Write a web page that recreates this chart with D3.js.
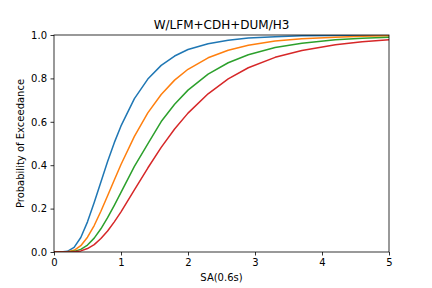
<!DOCTYPE html>
<html>
<head>
<meta charset="utf-8">
<script src="https://cdn.jsdelivr.net/npm/d3@7"></script>
<style>
  html, body { margin: 0; padding: 0; background: #fff; }
  svg { display: block; }
  text { font-family: "DejaVu Sans", sans-serif; fill: #000; }
</style>
</head>
<body>
<script>
const xValues = [0, 0.1, 0.2, 0.3, 0.4, 0.5, 0.6, 0.7, 0.8, 0.9, 1.0, 1.2, 1.4, 1.6, 1.8, 2.0, 2.3, 2.6, 2.9, 3.3, 3.7, 4.2, 4.6, 5.0];
const blue   = [0, 0, 0.003, 0.021, 0.067, 0.139, 0.228, 0.323, 0.417, 0.504, 0.581, 0.707, 0.797, 0.860, 0.903, 0.933, 0.960, 0.976, 0.986, 0.992, 0.996, 0.998, 0.999, 0.999];
const orange = [0, 0, 0.001, 0.008, 0.029, 0.068, 0.122, 0.188, 0.259, 0.332, 0.403, 0.533, 0.641, 0.726, 0.792, 0.842, 0.895, 0.930, 0.953, 0.972, 0.983, 0.990, 0.994, 0.996];
const green  = [0, 0, 0, 0.003, 0.012, 0.032, 0.064, 0.107, 0.158, 0.215, 0.275, 0.395, 0.498, 0.601, 0.681, 0.746, 0.820, 0.872, 0.909, 0.942, 0.962, 0.978, 0.985, 0.990];
const red    = [0, 0, 0, 0.001, 0.005, 0.016, 0.034, 0.062, 0.097, 0.139, 0.185, 0.286, 0.387, 0.482, 0.567, 0.640, 0.729, 0.798, 0.849, 0.897, 0.929, 0.955, 0.969, 0.978];
const seriesColors = ["#1f77b4", "#ff7f0e", "#2ca02c", "#d62728"];
const xTicks = [0, 1, 2, 3, 4, 5];
const yTicks = [0, 0.2, 0.4, 0.6, 0.8, 1.0];
const titleText = "W/LFM+CDH+DUM/H3";
const xLabel = "SA(0.6s)";
const yLabel = "Probability of Exceedance";

const W = 432, H = 288;
const m = { left: 54, right: 389, top: 35, bottom: 252 };

const svg = d3.select("body").append("svg").attr("width", W).attr("height", H);

const x = d3.scaleLinear().domain([0, 5]).range([m.left, m.right]);
const y = d3.scaleLinear().domain([0, 1]).range([m.bottom, m.top]);

const series = [blue, orange, green, red];
const line = d3.line().x((d, i) => x(xValues[i])).y(d => y(d));

const clip = svg.append("clipPath").attr("id", "clip").append("rect")
  .attr("x", m.left).attr("y", m.top).attr("width", m.right - m.left).attr("height", m.bottom - m.top);

const g = svg.append("g").attr("clip-path", "url(#clip)");
series.forEach((s, k) => {
  g.append("path").datum(s).attr("d", line)
    .attr("fill", "none").attr("stroke", seriesColors[k]).attr("stroke-width", 1.5)
    .attr("stroke-linejoin", "round").attr("stroke-linecap", "square");
});

const xAxis = svg.append("g").attr("transform", `translate(0,${m.bottom})`)
  .call(d3.axisBottom(x).tickValues(xTicks).tickFormat(d3.format("d")).tickSizeOuter(0).tickSize(3.5).tickPadding(3.5));
const yAxis = svg.append("g").attr("transform", `translate(${m.left},0)`)
  .call(d3.axisLeft(y).tickValues(yTicks).tickFormat(d3.format(".1f")).tickSizeOuter(0).tickSize(3.5).tickPadding(3.5));
[xAxis, yAxis].forEach(a => {
  a.selectAll("text").attr("font-size", 10).attr("font-family", "DejaVu Sans, sans-serif").attr("fill", "#000");
  a.selectAll("line").attr("stroke", "#000").attr("stroke-width", 0.8);
  a.select(".domain").remove();
});

svg.append("rect").attr("x", m.left).attr("y", m.top)
  .attr("width", m.right - m.left).attr("height", m.bottom - m.top)
  .attr("fill", "none").attr("stroke", "#000").attr("stroke-width", 0.8);

svg.append("text").attr("x", (m.left + m.right) / 2).attr("y", 29)
  .attr("text-anchor", "middle").attr("font-size", 12).text(titleText);
svg.append("text").attr("x", (m.left + m.right) / 2).attr("y", 281)
  .attr("text-anchor", "middle").attr("font-size", 10).text(xLabel);
svg.append("text").attr("transform", `translate(24,${(m.top + m.bottom) / 2}) rotate(-90)`)
  .attr("text-anchor", "middle").attr("font-size", 10).text(yLabel);
</script>
</body>
</html>
